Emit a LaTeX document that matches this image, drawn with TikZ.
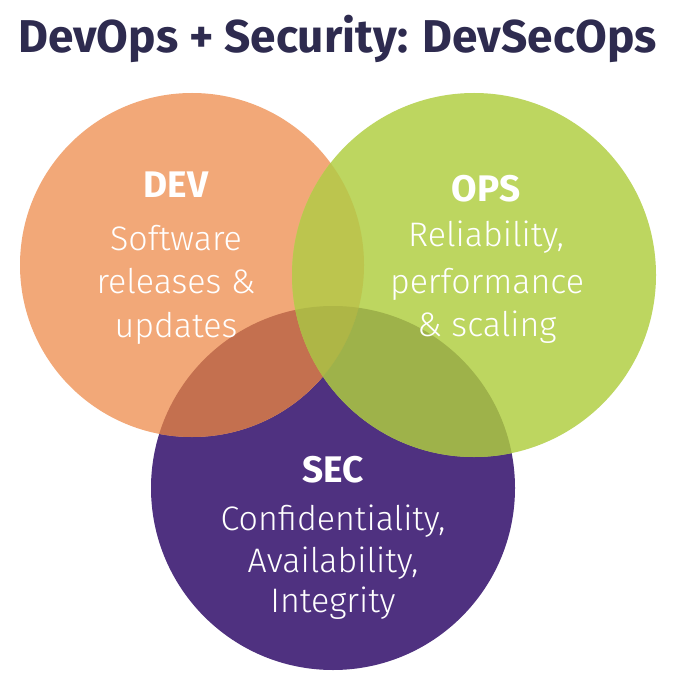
\documentclass[tikz,border=0pt]{standalone}
\usepackage{fontspec}
\setmainfont{Fira Sans}[UprightFont=* Light, BoldFont=* Bold]
\usepackage{tikz}
\definecolor{titlenavy}{HTML}{2E2B4F}
\definecolor{devorange}{HTML}{F2A878}
\definecolor{opsgreen}{HTML}{BDD660}
\definecolor{secpurple}{HTML}{4F3180}
\definecolor{devsec}{HTML}{C4704F}
\definecolor{opssec}{HTML}{9EB24A}
\definecolor{devops}{HTML}{BCC54E}
\definecolor{devopssec}{HTML}{AEB646}

\begin{document}
\begin{tikzpicture}[x=1pt, y=-1pt,
  headtext/.style={anchor=base, inner sep=0pt, text=white, font=\fontsize{37}{40}\selectfont\bfseries},
  bodytext/.style={anchor=base, inner sep=0pt, text=white, font=\fontsize{34}{44}\selectfont}]
\useasboundingbox (0,0) rectangle (678,684);
\fill[white] (0,0) rectangle (678,684);

% circle centres
\coordinate (devc) at (192,265);
\coordinate (opsc) at (474,275);
\coordinate (secc) at (333,488);

\fill[secpurple] (secc) circle[radius=182pt];
\fill[devorange] (devc) circle[radius=172pt];
\fill[opsgreen] (opsc) circle[radius=182pt];

% overlaps
\begin{scope}
\clip (devc) circle[radius=172pt];
\fill[devsec] (secc) circle[radius=182pt];
\fill[devops] (opsc) circle[radius=182pt];
\clip (opsc) circle[radius=182pt];
\fill[devopssec] (secc) circle[radius=182pt];
\end{scope}
\begin{scope}[even odd rule]
\clip (devc) circle[radius=172pt] (0,0) rectangle (678,684);
\clip (opsc) circle[radius=182pt];
\fill[opssec] (secc) circle[radius=182pt];
\end{scope}

\node[anchor=base, inner sep=0pt, text=titlenavy, font=\fontsize{46}{50}\selectfont\bfseries] (title) at (337.5,53) {DevOps + Security: DevSecOps};

\node[headtext] (devhead) at (176,198) {DEV};
\node[bodytext] (devline1) at (176,251) {Software};
\node[bodytext] (devline2) at (176,293) {releases \&};
\node[bodytext] (devline3) at (176,337) {updates};

\node[headtext] (opshead) at (486,202) {OPS};
\node[bodytext] (opsline1) at (486,247) {Reliability,};
\node[bodytext] (opsline2) at (487,293) {performance};
\node[bodytext] (opsline3) at (487,336) {\& scaling};

\node[headtext] (sechead) at (333,482) {SEC};
\node[bodytext] (secline1) at (333,530) {Confidentiality,};
\node[bodytext] (secline2) at (333,572) {Availability,};
\node[bodytext] (secline3) at (333,612) {Integrity};
\end{tikzpicture}
\end{document}
